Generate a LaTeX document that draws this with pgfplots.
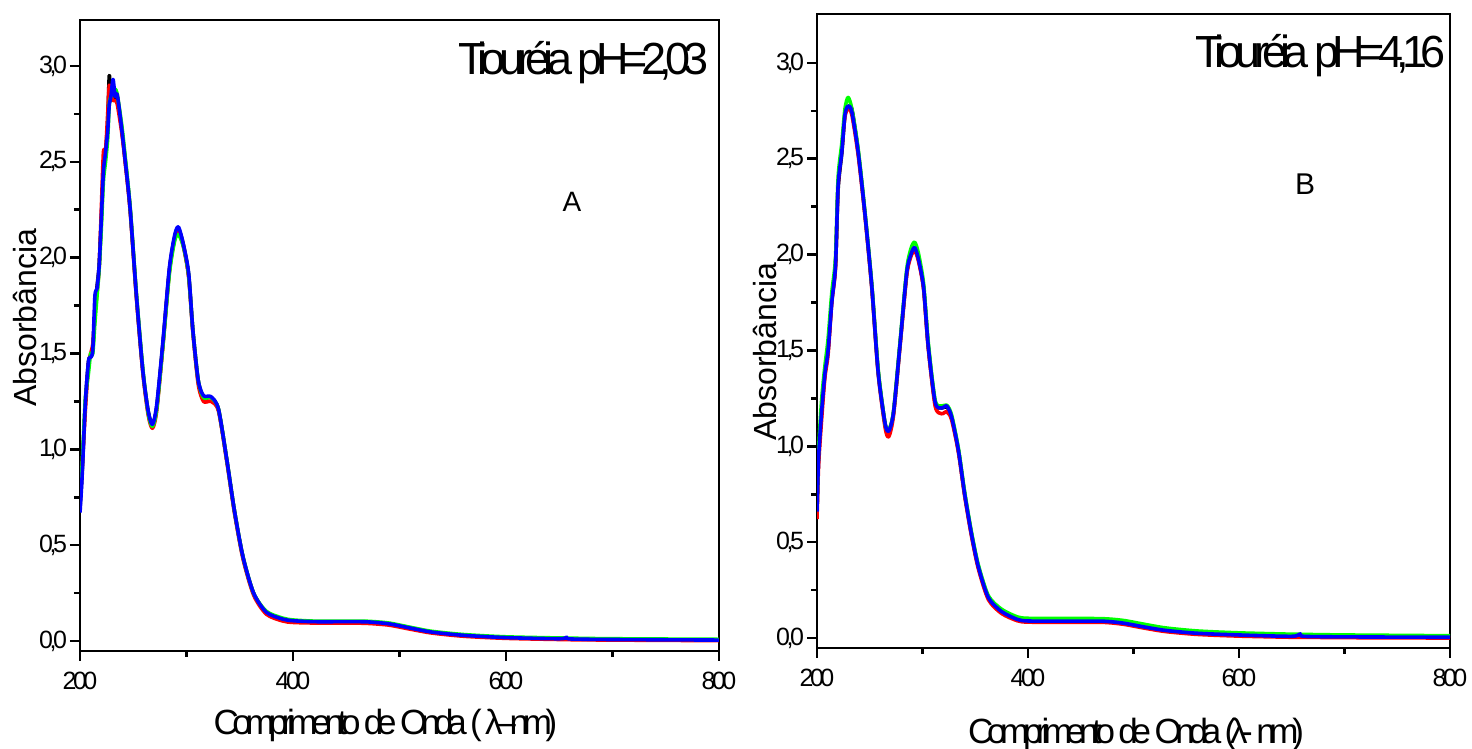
\documentclass[border=0pt]{standalone}
\usepackage{pgfplots}
\usepackage{pgfplotstable}
\usepackage{fontspec}
\pgfplotsset{compat=1.18}
\setmainfont{Liberation Sans}
\newfontfamily\condf[LetterSpace=-18]{Liberation Sans}
\newfontfamily\titlef[LetterSpace=-15]{Liberation Sans}
\newfontfamily\tickf[LetterSpace=-14]{Liberation Sans}

\definecolor{specred}{RGB}{255,0,0}
\definecolor{specgreen}{RGB}{0,255,0}
\definecolor{specblue}{RGB}{0,0,255}

% wavelength (nm), then the four spectra: black, red, green, blue
\pgfplotstableread{
wl    k     r     g     b
200   0.70  0.72  0.75  0.67
202   0.88  0.90  0.92  0.86
205   1.24  1.20  1.26  1.24
208   1.46  1.44  1.40  1.46
210   1.48  1.50  1.50  1.48
212   1.52  1.55  1.50  1.52
214   1.72  1.70  1.66  1.80
216   1.85  1.82  1.80  1.84
218   1.96  1.95  1.94  1.96
220   2.20  2.25  2.15  2.20
222   2.45  2.55  2.40  2.45
224   2.55  2.56  2.50  2.55
226   2.70  2.75  2.62  2.66
227.5 2.95  2.90  2.80  2.80
229   2.82  2.85  2.84  2.84
231   2.88  2.82  2.86  2.93
233   2.82  2.82  2.88  2.84
235   2.84  2.80  2.85  2.85
239   2.68  2.66  2.70  2.68
242   2.53  2.52  2.55  2.53
247   2.26  2.25  2.27  2.26
253   1.80  1.79  1.81  1.80
259   1.41  1.40  1.42  1.41
264   1.20  1.18  1.19  1.20
268   1.13  1.11  1.12  1.13
272   1.22  1.20  1.21  1.23
278   1.56  1.55  1.55  1.57
284   1.94  1.93  1.92  1.95
289   2.11  2.10  2.09  2.12
292.5 2.15  2.13  2.12  2.16
297   2.07  2.06  2.06  2.07
302   1.91  1.90  1.91  1.92
306   1.62  1.61  1.62  1.62
311   1.36  1.34  1.36  1.36
316   1.27  1.25  1.27  1.28
323   1.27  1.25  1.27  1.275
330   1.21  1.20  1.21  1.21
338   0.94  0.93  0.94  0.94
345   0.68  0.67  0.68  0.68
353   0.44  0.43  0.44  0.44
363   0.25  0.24  0.25  0.25
375   0.15  0.14  0.155 0.15
390   0.115 0.105 0.12  0.115
400   0.105 0.097 0.11  0.106
420   0.10  0.094 0.104 0.101
450   0.10  0.094 0.104 0.101
470   0.099 0.092 0.103 0.100
490   0.09  0.083 0.094 0.09
510   0.068 0.062 0.072 0.068
530   0.047 0.042 0.051 0.047
560   0.030 0.025 0.034 0.030
600   0.018 0.014 0.022 0.018
650   0.012 0.008 0.016 0.012
657   0.012 0.008 0.016 0.020
660   0.011 0.007 0.015 0.011
700   0.008 0.005 0.012 0.008
800   0.005 0.002 0.009 0.005
}\dataA

\pgfplotstableread{
wl    k     r     g     b
200   0.66  0.62  0.70  0.66
201.5 0.94  0.90  0.98  0.94
204.5 1.19  1.15  1.25  1.19
207.5 1.38  1.36  1.42  1.38
210.5 1.50  1.48  1.56  1.50
214   1.76  1.75  1.80  1.75
217.5 1.94  1.93  1.98  1.94
220   2.34  2.36  2.40  2.36
223.5 2.53  2.55  2.58  2.535
226.5 2.73  2.72  2.76  2.73
229.5 2.77  2.76  2.82  2.775
233   2.76  2.73  2.76  2.745
239   2.54  2.52  2.55  2.535
245.5 2.21  2.20  2.22  2.21
252   1.83  1.82  1.84  1.83
258   1.39  1.38  1.40  1.385
264.5 1.12  1.10  1.12  1.12
268   1.08  1.05  1.085 1.08
272.5 1.175 1.16  1.18  1.175
278.5 1.52  1.51  1.53  1.52
285   1.90  1.89  1.92  1.905
289   2.00  1.99  2.03  2.00
292.5 2.035 2.02  2.065 2.037
296   1.98  1.97  2.01  1.98
301   1.83  1.82  1.85  1.83
305.5 1.52  1.51  1.54  1.52
312   1.23  1.21  1.24  1.23
318   1.20  1.17  1.21  1.20
323   1.205 1.18  1.215 1.21
327.5 1.155 1.14  1.165 1.155
334   0.98  0.97  0.99  0.98
340   0.75  0.74  0.76  0.75
346.5 0.54  0.53  0.55  0.54
353   0.37  0.36  0.38  0.37
362.5 0.21  0.20  0.22  0.21
375   0.138 0.128 0.15  0.138
390   0.098 0.09  0.11  0.097
400   0.09  0.083 0.103 0.089
430   0.088 0.082 0.102 0.088
470   0.088 0.082 0.101 0.088
490   0.078 0.072 0.092 0.078
510   0.058 0.052 0.072 0.058
530   0.040 0.034 0.053 0.040
560   0.025 0.019 0.037 0.025
600   0.016 0.010 0.027 0.016
650   0.009 0.004 0.020 0.009
658   0.009 0.004 0.020 0.022
661   0.009 0.004 0.019 0.009
700   0.006 0.002 0.016 0.006
800   0.004 0.000 0.012 0.004
}\dataB

\pgfplotsset{
  spec/.style={
    scale only axis,
    xmin=200, xmax=800,
    xtick={200,400,600,800},
    minor xtick={300,500,700},
    ytick={0,0.5,1,1.5,2,2.5,3},
    minor ytick={0.25,0.75,1.25,1.75,2.25,2.75},
    tick align=outside,
    xtick pos=bottom, ytick pos=left,
    major tick length=5bp, minor tick length=3bp,
    axis line style={line width=1.3bp},
    every tick/.style={line width=1.3bp, black},
    tick label style={font=\tickf\fontsize{12.5bp}{14bp}\selectfont},
    /pgf/number format/assume math mode=true,
    yticklabel style={xshift=2bp, /pgf/number format/.cd, use comma, fixed, fixed zerofill, precision=1},
    xticklabel style={yshift=-2bp},
    clip mode=individual,
    every axis plot/.append style={line width=1.8bp, line join=round, smooth, tension=0.45},
  }
}

\begin{document}
\begin{tikzpicture}
\useasboundingbox (0,0) rectangle (736bp,374.5bp);

\begin{axis}[spec, at={(40bp,49bp)}, anchor=south west,
  width=319.5bp, height=315.5bp, ymin=-0.052, ymax=3.24]
  \addplot[black] table[x=wl,y=k]{\dataA};
  \addplot[specred] table[x=wl,y=r]{\dataA};
  \addplot[specgreen] table[x=wl,y=g]{\dataA};
  \addplot[specblue] table[x=wl,y=b]{\dataA};
  \node[anchor=base east, font=\titlef\fontsize{22.5bp}{26bp}\selectfont] at (rel axis cs:0.995,0.913) {Tiouréia pH=2,03};
  \node[anchor=base, font=\fontsize{14bp}{16bp}\selectfont] at (rel axis cs:0.77,0.696) {A};
  \node[anchor=base, font=\condf\fontsize{17.5bp}{20bp}\selectfont] at (rel axis cs:0.478,-0.133) {Comprimento de Onda ( λ–nm)};
  \node[rotate=90, font=\fontsize{16bp}{18bp}\selectfont] at (rel axis cs:-0.086,0.528) {Absorbância};
\end{axis}

\begin{axis}[spec, at={(408.5bp,50.5bp)}, anchor=south west,
  width=316.5bp, height=317bp, ymin=-0.052, ymax=3.255]
  \addplot[black] table[x=wl,y=k]{\dataB};
  \addplot[specred] table[x=wl,y=r]{\dataB};
  \addplot[specgreen] table[x=wl,y=g]{\dataB};
  \addplot[specblue] table[x=wl,y=b]{\dataB};
  \node[anchor=base east, font=\titlef\fontsize{22.5bp}{26bp}\selectfont] at (rel axis cs:1.004,0.915) {Tiouréia pH=4,16};
  \node[anchor=base, font=\fontsize{15bp}{17bp}\selectfont] at (rel axis cs:0.771,0.715) {B};
  \node[anchor=base, font=\condf\fontsize{17.5bp}{20bp}\selectfont] at (rel axis cs:0.504,-0.150) {Comprimento de Onda (λ- nm)};
  \node[rotate=90, font=\fontsize{16bp}{18bp}\selectfont] at (rel axis cs:-0.082,0.467) {Absorbância};
\end{axis}
\end{tikzpicture}
\end{document}
